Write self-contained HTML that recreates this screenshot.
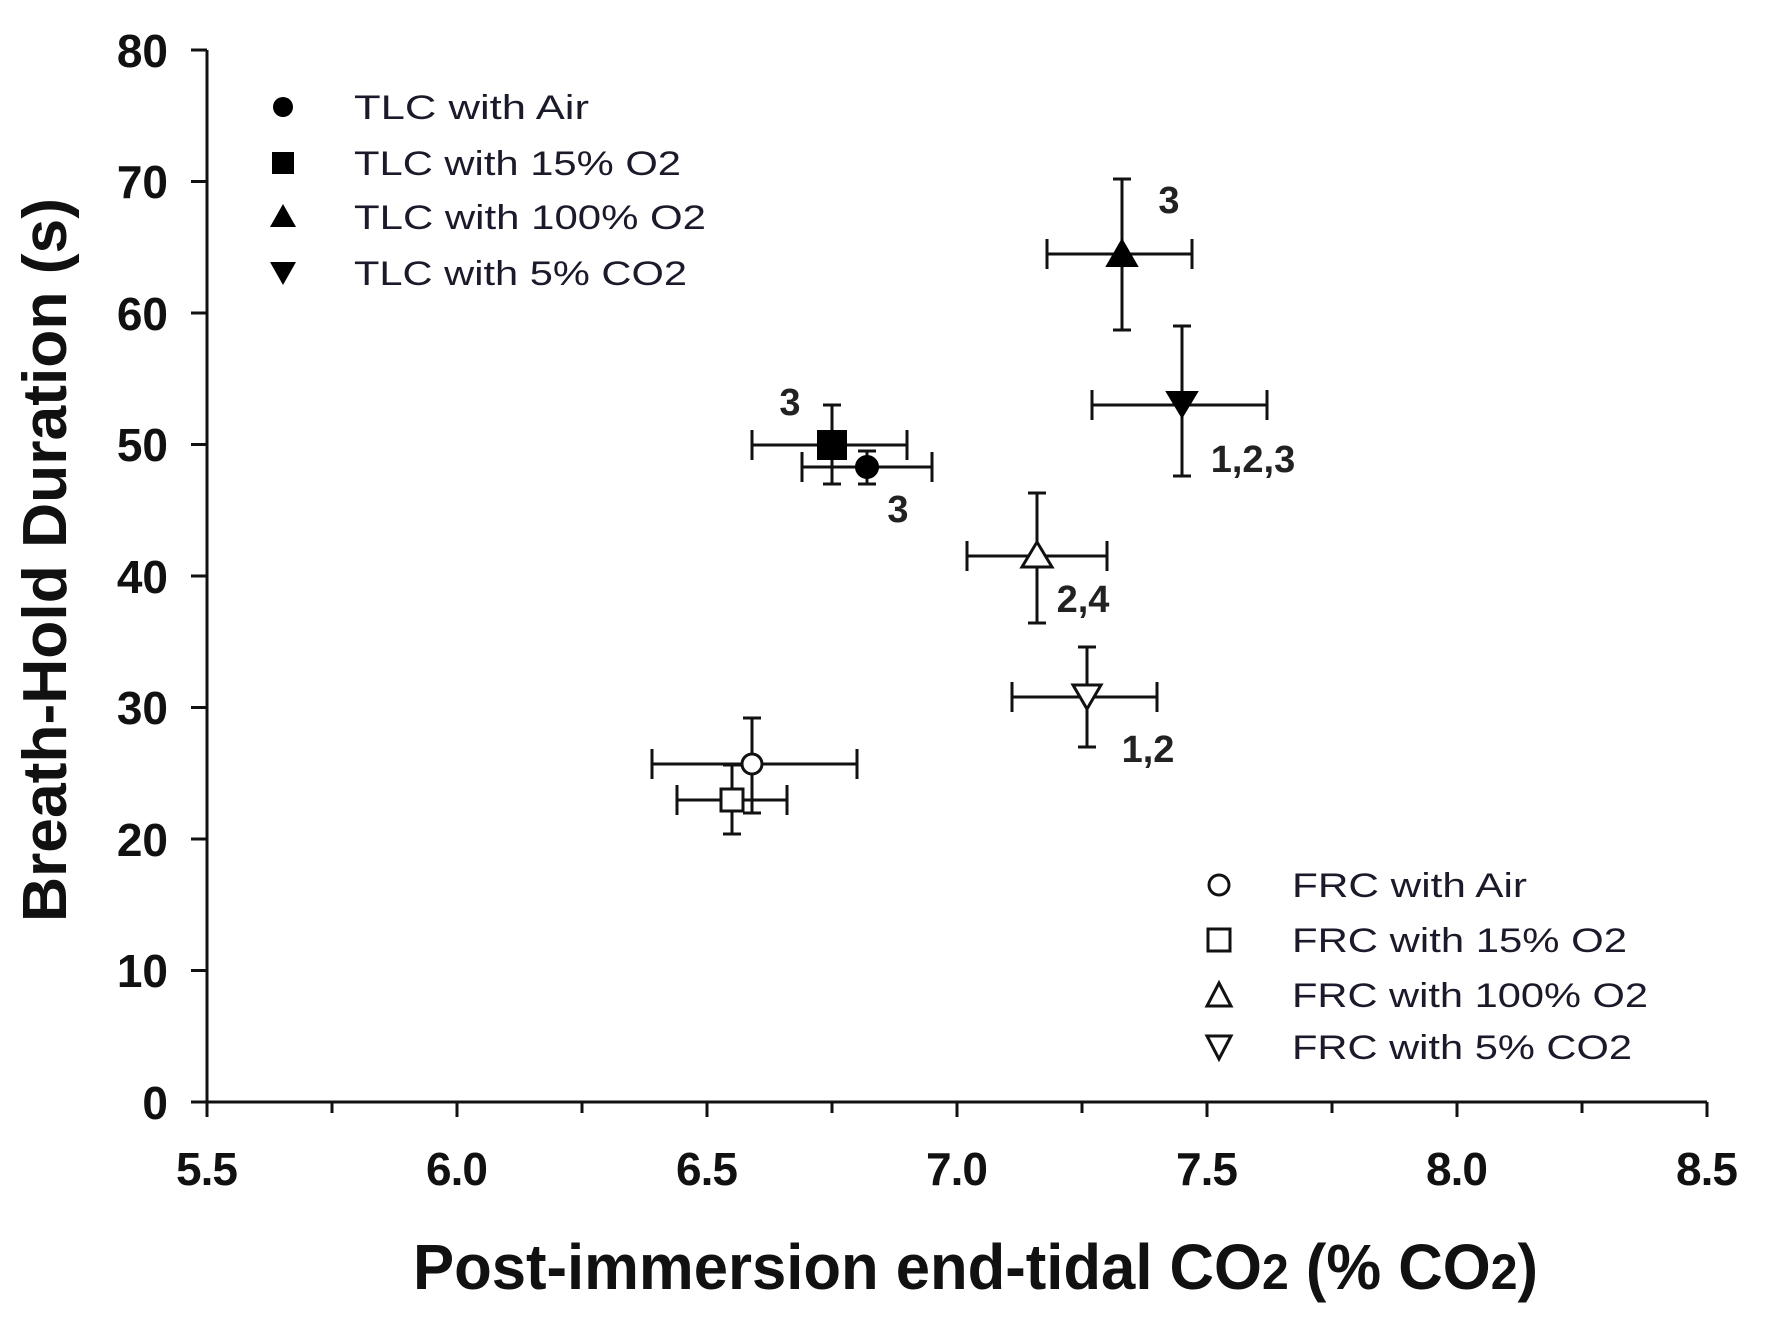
<!DOCTYPE html>
<html><head><style>html,body{margin:0;padding:0;background:#fff}svg{display:block}</style></head>
<body>
<svg width="1772" height="1325" viewBox="0 0 1772 1325" xmlns="http://www.w3.org/2000/svg" font-family="Liberation Sans, Arial, sans-serif">
<g stroke="#111" stroke-width="3" fill="none">
<path d="M207 50 V1102 H1707"/>
<path d="M191 50 H207 M191 181.5 H207 M191 313 H207 M191 444.5 H207 M191 576 H207 M191 707.5 H207 M191 839 H207 M191 970.5 H207 M191 1102 H207"/>
<path d="M207 1102 V1117 M332 1102 V1113 M457 1102 V1117 M582 1102 V1113 M707 1102 V1117 M832 1102 V1113 M957 1102 V1117 M1082 1102 V1113 M1207 1102 V1117 M1332 1102 V1113 M1457 1102 V1117 M1582 1102 V1113 M1707 1102 V1117"/>
</g>
<g font-weight="bold" font-size="46" fill="#111" text-anchor="end">
<text x="168" y="67">80</text><text x="168" y="198">70</text><text x="168" y="330">60</text><text x="168" y="461">50</text><text x="168" y="593">40</text><text x="168" y="724">30</text><text x="168" y="856">20</text><text x="168" y="987">10</text><text x="168" y="1119">0</text>
</g>
<g font-weight="bold" font-size="46" fill="#111" text-anchor="middle">
<text x="207" y="1185" textLength="62">5.5</text><text x="457" y="1185" textLength="62">6.0</text><text x="707" y="1185" textLength="62">6.5</text><text x="957" y="1185" textLength="62">7.0</text><text x="1207" y="1185" textLength="62">7.5</text><text x="1457" y="1185" textLength="62">8.0</text><text x="1707" y="1185" textLength="62">8.5</text>
</g>
<text x="413" y="1289" font-weight="bold" font-size="64" fill="#111" textLength="1125" lengthAdjust="spacingAndGlyphs">Post-immersion end-tidal CO<tspan font-size="50">2</tspan> (% CO<tspan font-size="50">2</tspan>)</text>
<text transform="translate(66,922) rotate(-90)" font-weight="bold" font-size="62" fill="#111" textLength="724" lengthAdjust="spacingAndGlyphs">Breath-Hold Duration (s)</text>

<!-- error bars -->
<g stroke="#111" stroke-width="3" fill="none">
<!-- TLC Air -->
<path d="M802 467 H932 M802 452 V482 M932 452 V482 M867 451 V484 M858 451 H876 M858 484 H876"/>
<!-- TLC 15 -->
<path d="M752 445 H907 M752 430 V460 M907 430 V460 M832 405 V484 M823 405 H841 M823 484 H841"/>
<!-- TLC 100 -->
<path d="M1047 254 H1192 M1047 239 V269 M1192 239 V269 M1122 179 V330 M1113 179 H1131 M1113 330 H1131"/>
<!-- TLC 5 -->
<path d="M1092 405 H1267 M1092 390 V420 M1267 390 V420 M1182 326 V476 M1173 326 H1191 M1173 476 H1191"/>
<!-- FRC Air -->
<path d="M652 764 H857 M652 749 V779 M857 749 V779 M752 718 V813 M743 718 H761 M743 813 H761"/>
<!-- FRC 15 -->
<path d="M677 800 H787 M677 785 V815 M787 785 V815 M732 765 V834 M723 765 H741 M723 834 H741"/>
<!-- FRC 100 -->
<path d="M967 556 H1107 M967 541 V571 M1107 541 V571 M1037 493 V623 M1028 493 H1046 M1028 623 H1046"/>
<!-- FRC 5 -->
<path d="M1012 697 H1157 M1012 682 V712 M1157 682 V712 M1087 647 V747 M1078 647 H1096 M1078 747 H1096"/>
</g>
<!-- markers -->
<g fill="#000" stroke="#000" stroke-width="2">
<circle cx="867" cy="467" r="11"/>
<rect x="818" y="431" width="28" height="28"/>
<path d="M1122 240 L1137 266 L1107 266 Z"/>
<path d="M1182 417 L1197 392 L1167 392 Z"/>
</g>
<g fill="#fff" stroke="#111" stroke-width="3">
<circle cx="752" cy="764" r="10"/>
<rect x="721" y="789" width="22" height="22"/>
<path d="M1037 542 L1052 567 L1022 567 Z"/>
<path d="M1087 709 L1101 685 L1073 685 Z"/>
</g>
<!-- annotations -->
<g font-weight="bold" font-size="38" fill="#222" text-anchor="middle">
<text x="790" y="415">3</text>
<text x="898" y="522">3</text>
<text x="1169" y="213">3</text>
<text x="1253" y="472">1,2,3</text>
<text x="1083" y="612">2,4</text>
<text x="1148" y="762">1,2</text>
</g>
<!-- legends -->
<g fill="#000">
<circle cx="283" cy="107" r="10"/>
<rect x="272" y="152" width="22" height="22"/>
<path d="M283 204 L296 227 L270 227 Z"/>
<path d="M283 285 L296 262 L270 262 Z"/>
</g>
<g font-size="34" fill="#1a1a2a">
<text x="354" y="119" textLength="235" lengthAdjust="spacingAndGlyphs">TLC with Air</text>
<text x="354" y="175" textLength="327" lengthAdjust="spacingAndGlyphs">TLC with 15% O2</text>
<text x="354" y="229" textLength="352" lengthAdjust="spacingAndGlyphs">TLC with 100% O2</text>
<text x="354" y="285" textLength="333" lengthAdjust="spacingAndGlyphs">TLC with 5% CO2</text>
<text x="1292" y="897" textLength="235" lengthAdjust="spacingAndGlyphs">FRC with Air</text>
<text x="1292" y="952" textLength="335" lengthAdjust="spacingAndGlyphs">FRC with 15% O2</text>
<text x="1292" y="1007" textLength="356" lengthAdjust="spacingAndGlyphs">FRC with 100% O2</text>
<text x="1292" y="1059" textLength="340" lengthAdjust="spacingAndGlyphs">FRC with 5% CO2</text>
</g>
<g fill="#fff" stroke="#111" stroke-width="3">
<circle cx="1219" cy="885" r="10"/>
<rect x="1208" y="929" width="22" height="22"/>
<path d="M1219 983 L1231 1006 L1207 1006 Z"/>
<path d="M1219 1059 L1231 1036 L1207 1036 Z"/>
</g>
</svg>
</body></html>
